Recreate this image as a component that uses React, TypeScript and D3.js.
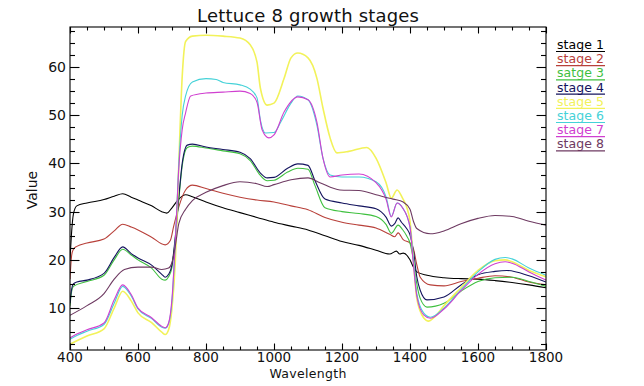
import React, { useEffect, useRef } from "react";
import * as d3 from "d3";

// reflectance spectra, [wavelength nm, value]
const stage1 = [[400,20],[405,26],[410,29.5],[420,31.2],[450,31.8],[500,32.5],[530,33.2],[555,33.7],[580,33],[600,32.4],[640,31.2],[670,30],[685,29.7],[700,30.8],[720,32.6],[740,33.5],[760,33.1],[800,32],[850,30.8],[900,29.8],[950,28.8],[1000,27.8],[1050,27],[1100,26.2],[1150,25],[1200,23.8],[1250,23],[1300,22],[1340,21.2],[1360,21.8],[1370,21.2],[1380,21.4],[1400,20],[1410,18.5],[1420,17.5],[1450,16.8],[1500,16.3],[1550,16.1],[1600,16],[1650,15.7],[1700,15.3],[1750,14.8],[1800,14.2]];
const stage2 = [[400,16],[405,21],[410,22.2],[420,22.8],[450,23.5],[500,24.3],[530,26],[555,27.4],[580,26.8],[600,26.2],[640,24.7],[680,23.1],[695,24],[705,27],[720,31],[740,34.5],[760,35.5],[800,34.8],[850,33.8],[900,33],[950,32.4],[1000,32],[1050,31.2],[1100,30.4],[1150,28.8],[1200,27.8],[1250,27.2],[1300,26.6],[1340,25.3],[1355,24.8],[1365,25.6],[1380,24.2],[1400,23.5],[1410,22.3],[1420,19],[1430,16.4],[1460,14.8],[1500,14.6],[1550,15.5],[1600,16.2],[1650,16.7],[1700,16.4],[1750,15.4],[1800,14.8]];
const stage3 = [[400,10.5],[405,13.5],[410,14.5],[450,15.5],[500,16.8],[530,20],[555,22.2],[580,21],[600,20],[640,18.3],[670,16],[680,15.8],[690,16.5],[700,18.5],[710,24.5],[720,32.5],[730,39.5],[745,43.3],[760,43.6],[800,43.2],[850,42.6],[900,42],[930,40.6],[960,37.5],[980,36.4],[1000,36.5],[1040,38.2],[1070,39],[1100,38.8],[1120,35.5],[1150,30.8],[1200,30],[1250,29.6],[1300,29],[1330,27.3],[1345,25.5],[1365,27.2],[1378,26.3],[1390,25],[1400,23.5],[1410,20],[1420,15],[1430,12],[1450,10.2],[1500,11],[1550,13.5],[1600,15.5],[1650,16.3],[1700,16.4],[1750,15.5],[1800,14.5]];
const stage4 = [[400,11],[405,14],[410,15],[420,15.4],[450,15.8],[500,17.2],[530,20.5],[555,22.7],[580,21.3],[600,20.4],[640,18.9],[670,17],[680,16.4],[690,17],[700,19],[710,25],[720,33],[730,40],[745,43.8],[760,44],[800,43.4],[850,42.9],[900,42.3],[930,41],[960,38],[980,37],[1000,37.1],[1040,39],[1070,39.9],[1100,39.6],[1120,36.5],[1150,32.6],[1200,31.8],[1250,31.2],[1300,30.6],[1330,28.8],[1345,27],[1355,27.5],[1365,28.7],[1375,27.8],[1390,26.5],[1400,25.2],[1410,22],[1420,16.5],[1430,13.7],[1450,11.7],[1500,12.3],[1550,14.8],[1600,16.9],[1650,17.6],[1685,17.8],[1750,16.7],[1800,15.4]];
const stage5 = [[400,2.5],[420,3.2],[450,4.2],[500,5.7],[530,10],[555,13.5],[580,11.5],[600,9],[640,7],[670,5],[680,4.5],[690,5.5],[700,10],[710,20],[720,40],[730,58],[740,65.3],[760,66.4],[800,66.6],[850,66.4],[900,66],[930,64.6],[950,61],[960,55.6],[980,52.1],[1000,52.5],[1030,57.7],[1050,61.9],[1070,62.9],[1100,61.9],[1126,57.7],[1144,51.5],[1165,45.3],[1185,42.2],[1220,42.5],[1273,43.3],[1300,41.1],[1330,35.9],[1345,32.8],[1362,34.5],[1378,32.8],[1390,31],[1400,28],[1410,20],[1420,12],[1440,8],[1455,7.3],[1470,8],[1500,10.5],[1550,14.2],[1600,17.8],[1650,19.8],[1680,20],[1700,19.6],[1750,17.8],[1800,16.5]];
const stage6 = [[400,3.5],[420,4.3],[450,5.2],[500,6.6],[530,11],[555,14.5],[580,12.5],[600,9.8],[640,7.8],[670,6],[680,5.8],[690,6.8],[700,11.5],[710,24],[720,40],[730,50],[740,54],[760,56.9],[800,57.6],[830,57.4],[850,56.8],[900,56.3],[930,55.4],[950,53.6],[960,49],[975,46.3],[1000,46.4],[1020,48.6],[1050,52.5],[1070,54],[1100,53.2],[1126,48],[1144,41.1],[1165,37.6],[1200,37.2],[1250,37.2],[1300,36.2],[1330,33],[1345,29],[1362,31.8],[1378,30.8],[1400,26.8],[1410,20],[1420,13],[1440,9],[1460,8.1],[1500,10],[1550,13.8],[1600,17.5],[1650,20.1],[1680,20.5],[1700,20.2],[1750,18.3],[1800,16.8]];
const stage7 = [[400,3.8],[420,4.6],[450,5.5],[500,6.9],[530,11.7],[555,14.8],[580,12.8],[600,10],[640,8],[670,6.2],[680,5.9],[690,6.9],[700,12],[710,24],[720,39],[730,47],[740,50.5],[755,54],[800,54.6],[850,54.8],[900,55],[930,54.5],[950,52.7],[965,47],[985,45.3],[1000,45.9],[1030,50.7],[1070,53.8],[1100,53.2],[1126,48.6],[1144,41.1],[1165,37.2],[1200,37.6],[1250,37.8],[1300,36],[1330,32.5],[1345,28.9],[1362,31.8],[1378,30.8],[1400,26.8],[1410,19],[1420,12.5],[1440,8.6],[1460,7.9],[1500,9.8],[1550,13.6],[1600,17],[1650,19.2],[1680,19.6],[1700,19.3],[1750,17.5],[1800,15.8]];
const stage8 = [[400,8.5],[450,10.5],[500,13],[530,16],[560,18],[600,18.5],[640,18.5],[670,18],[690,18.3],[700,19.5],[710,23],[720,27.5],[740,30.5],[760,32.3],[800,34],[850,35.4],[900,36.2],[950,35.8],[980,35.2],[1000,35.6],[1050,36.6],[1100,37],[1135,36],[1194,34.5],[1250,34.4],[1300,33.5],[1350,32.6],[1380,32],[1400,30.5],[1410,28],[1420,26.5],[1460,25.4],[1500,26],[1550,27.5],[1600,28.6],[1650,29.2],[1700,29],[1750,28],[1800,27.2]];

const stageNames = ["stage 1", "stage 2", "satge 3", "stage 4", "stage 5", "stage 6", "stage 7", "stage 8"];
const stageColors = ["#000000", "#b8403a", "#3fc03f", "#14145e", "#f2f25a", "#45d2d8", "#d040d0", "#6e3a62"];
const xTicks = [400, 600, 800, 1000, 1200, 1400, 1600, 1800];
const yTicks = [10, 20, 30, 40, 50, 60];

const W = 644, H = 386;
const FONT = "'DejaVu Sans', sans-serif";

export default function App() {
    const svgRef = useRef<SVGSVGElement>(null);

    useEffect(() => {
        const series = [stage1, stage2, stage3, stage4, stage5, stage6, stage7, stage8];
        const m = { left: 70, right: 546, top: 27, bottom: 350 };

        const x = d3.scaleLinear().domain([400, 1800]).range([m.left, m.right]);
        const y = d3.scaleLinear().domain([1.3, 68.3]).range([m.bottom, m.top]);

        const svg = d3.select(svgRef.current);
        svg.selectAll("*").remove();
        svg.append("rect").attr("width", W).attr("height", H).attr("fill", "#fff");

        svg.append("clipPath").attr("id", "plotclip")
            .append("rect")
            .attr("x", m.left).attr("y", m.top)
            .attr("width", m.right - m.left).attr("height", m.bottom - m.top);

        const line = d3.line<number[]>()
            .x((d) => x(d[0]))
            .y((d) => y(d[1]))
            .curve(d3.curveMonotoneX);

        svg.append("g").attr("clip-path", "url(#plotclip)")
            .selectAll("path")
            .data(series)
            .join("path")
            .attr("d", (d) => line(d))
            .attr("fill", "none")
            .attr("stroke", (d, i) => stageColors[i])
            .attr("stroke-width", (d, i) => (i === 4 ? 1.6 : 1.1));

        // box + inward ticks on all four sides
        const ax = svg.append("g").attr("stroke", "#000").attr("stroke-width", 1.1);
        ax.append("rect")
            .attr("x", m.left).attr("y", m.top)
            .attr("width", m.right - m.left).attr("height", m.bottom - m.top)
            .attr("fill", "none");

        const xMinor = d3.range(400, 1801, 50);
        const yMinor = d3.range(2.5, 68, 2.5);
        const xLen = (v) => (v % 200 === 0 ? 6.5 : 3.5);
        const yLen = (v) => (v % 10 === 0 ? 9.5 : 5);

        xMinor.forEach((v) => {
            const px = Math.round(x(v)) + 0.5;
            ax.append("line").attr("x1", px).attr("x2", px).attr("y1", m.bottom).attr("y2", m.bottom - xLen(v));
            ax.append("line").attr("x1", px).attr("x2", px).attr("y1", m.top).attr("y2", m.top + xLen(v));
        });
        yMinor.forEach((v) => {
            const py = Math.round(y(v)) + 0.5;
            ax.append("line").attr("x1", m.left).attr("x2", m.left + yLen(v)).attr("y1", py).attr("y2", py);
            ax.append("line").attr("x1", m.right).attr("x2", m.right - yLen(v)).attr("y1", py).attr("y2", py);
        });

        const txt = svg.append("g").attr("font-family", FONT).attr("fill", "#111");

        txt.selectAll(".xl").data(xTicks).join("text")
            .attr("x", (d) => x(d)).attr("y", 362)
            .attr("text-anchor", "middle").attr("font-size", 13.5)
            .text((d) => d);

        txt.selectAll(".yl").data(yTicks).join("text")
            .attr("x", 66).attr("y", (d) => y(d) + 5)
            .attr("text-anchor", "end").attr("font-size", 14)
            .text((d) => d);

        txt.append("text")
            .attr("x", 308).attr("y", 22)
            .attr("text-anchor", "middle").attr("font-size", 18)
            .attr("textLength", 222)
            .text("Lettuce 8 growth stages");

        txt.append("text")
            .attr("x", 308).attr("y", 378)
            .attr("text-anchor", "middle").attr("font-size", 12.5)
            .attr("textLength", 77)
            .text("Wavelength");

        txt.append("text")
            .attr("transform", "translate(37,190) rotate(-90)")
            .attr("text-anchor", "middle").attr("font-size", 14)
            .text("Value");

        // legend: coloured text, underlined in the same colour
        const leg = svg.append("g").attr("font-family", FONT);
        stageNames.forEach((name, i) => {
            const by = 49 + i * 14.2;
            leg.append("text")
                .attr("x", 557).attr("y", by)
                .attr("font-size", 12.5)
                .attr("textLength", 47)
                .attr("fill", stageColors[i])
                .text(name);
            leg.append("line")
                .attr("x1", 556).attr("x2", 605)
                .attr("y1", by + 2.5).attr("y2", by + 2.5)
                .attr("stroke", stageColors[i]).attr("stroke-width", 1.2);
        });
    }, []);

    return (
        <svg
            ref={svgRef}
            width={W}
            height={H}
            style={{ position: "absolute", left: 0, top: 0, background: "#fff" }}
        />
    );
}
